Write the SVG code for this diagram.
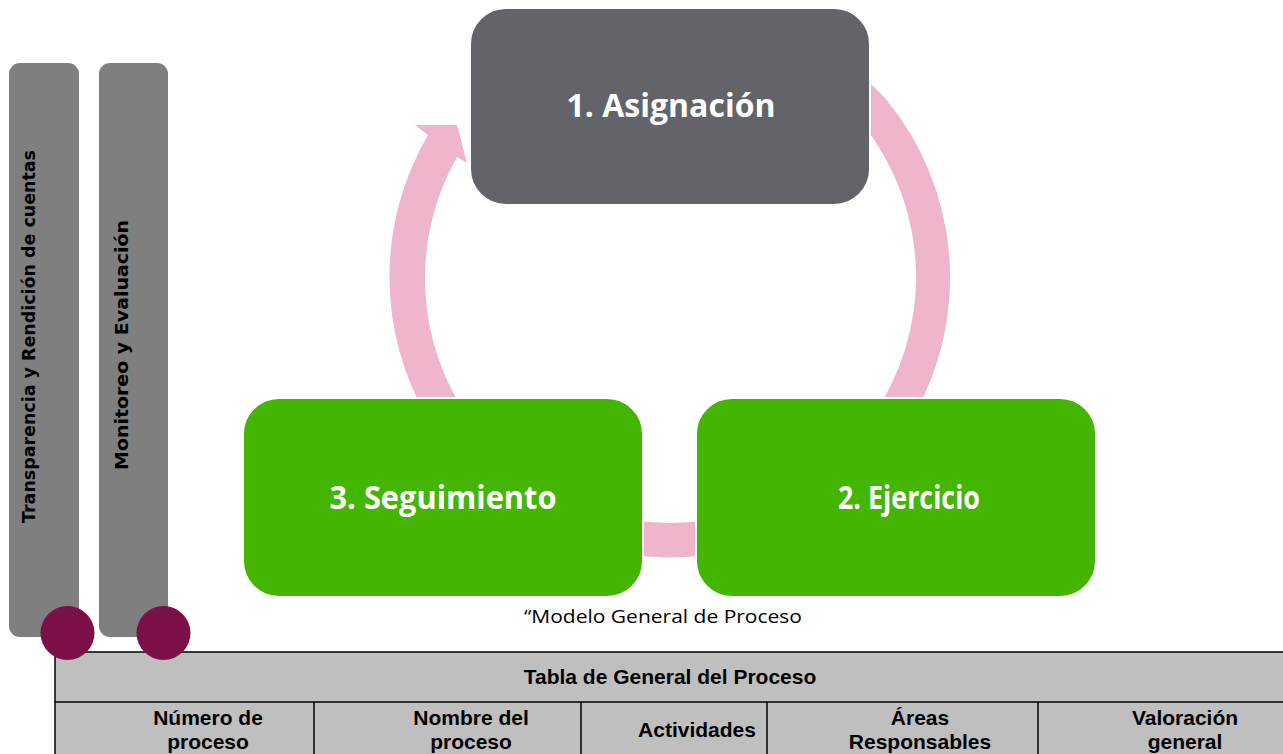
<svg xmlns="http://www.w3.org/2000/svg" width="1283" height="754" viewBox="0 0 1283 754">
<style>
.bar{fill:#7f7f7f}
.dot{fill:#7a1045}
.arc{fill:#efb5cd}
.node{stroke:#ffffff;stroke-width:2}
.lbl{font-family:"Open Sans","DejaVu Sans",sans-serif;font-weight:bold;font-size:32px;fill:#ffffff;text-anchor:middle}
.vt{font-family:"DejaVu Sans","Liberation Sans",sans-serif;font-weight:bold;font-size:17.5px;fill:#000000;text-anchor:middle}
.th{font-family:"Liberation Sans",Arial,sans-serif;font-weight:bold;font-size:21px;fill:#000000;text-anchor:middle}
.cap{font-family:"Open Sans","Liberation Sans",sans-serif;font-size:19px;fill:#000000}
.grid{stroke:#000000;stroke-width:1.5;fill:none}
</style>
<rect width="1283" height="754" fill="#ffffff"/>
<g id="table">
<rect x="55" y="652" width="1240" height="110" fill="#bfbfbf" stroke="#000" stroke-width="1.5"/>
<line class="grid" x1="55" y1="702" x2="1283" y2="702"/>
<line class="grid" x1="314" y1="702" x2="314" y2="754"/>
<line class="grid" x1="581" y1="702" x2="581" y2="754"/>
<line class="grid" x1="767" y1="702" x2="767" y2="754"/>
<line class="grid" x1="1038" y1="702" x2="1038" y2="754"/>
<text class="th" x="670" y="684">Tabla de General del Proceso</text>
<text class="th" x="208" y="725">Número de</text>
<text class="th" x="208" y="749">proceso</text>
<text class="th" x="471" y="725">Nombre del</text>
<text class="th" x="471" y="749">proceso</text>
<text class="th" x="697" y="737">Actividades</text>
<text class="th" x="920" y="725">Áreas</text>
<text class="th" x="920" y="749">Responsables</text>
<text class="th" x="1185" y="725">Valoración</text>
<text class="th" x="1185" y="749">general</text>
</g>
<g id="bar-transparencia">
<rect class="bar" x="9" y="63" width="70" height="574" rx="11"/>
<text class="vt" transform="translate(35,336.5) rotate(-90)" textLength="373" lengthAdjust="spacingAndGlyphs">Transparencia y Rendición de cuentas</text>
</g>
<g id="bar-monitoreo">
<rect class="bar" x="99" y="63" width="69" height="574" rx="11"/>
<text class="vt" transform="translate(128,345) rotate(-90)" textLength="250" lengthAdjust="spacingAndGlyphs">Monitoreo y Evaluación</text>
</g>
<g id="dots">
<circle class="dot" cx="67.5" cy="633" r="27"/>
<circle class="dot" cx="163.5" cy="633" r="27"/>
</g>
<g id="connectors">
<path class="arc" d="M428,135 L415,125 L457,125 L467,163 L457,157 A246,246 0 0 0 469.8,420 L428.7,420 A280.5,280.5 0 0 1 428,135 Z"/>
<path class="arc" d="M865,78 L885,98 A280.5,280.5 0 0 1 911.3,420 L870.2,420 A246,246 0 0 0 862,123.2 Z"/>
<path class="arc" d="M710,519.7 A246,246 0 0 1 630,519.7 L624.4,553.7 A280.5,280.5 0 0 0 715.6,553.7 Z"/>
</g>
<g id="node-1">
<rect class="node" x="470" y="8" width="400" height="197" rx="36" fill="#636469"/>
<text class="lbl" x="671" y="117">1. Asignación</text>
</g>
<g id="node-3">
<rect class="node" x="243" y="398" width="400" height="199" rx="36" fill="#44b500"/>
<text class="lbl" x="443" y="509" textLength="227" lengthAdjust="spacingAndGlyphs">3. Seguimiento</text>
</g>
<g id="node-2">
<rect class="node" x="696" y="398" width="400" height="199" rx="36" fill="#44b500"/>
<text class="lbl" x="909" y="509" textLength="142" lengthAdjust="spacingAndGlyphs">2. Ejercicio</text>
</g>
<text class="cap" x="524" y="623" textLength="278" lengthAdjust="spacingAndGlyphs">“Modelo General de Proceso</text>
</svg>
